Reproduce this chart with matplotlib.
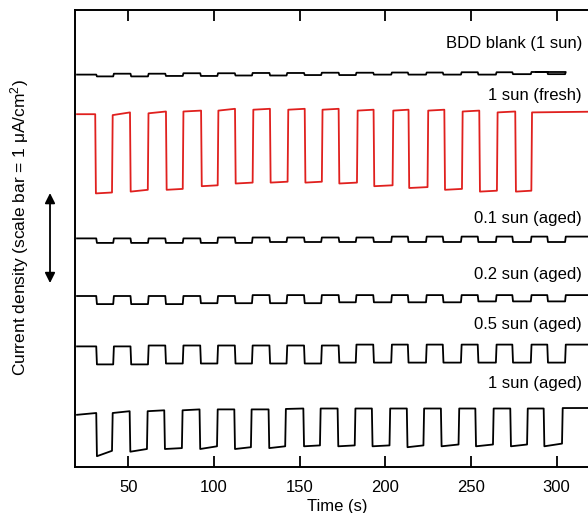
import numpy as np
import matplotlib.pyplot as plt

plt.rcParams['font.family'] = ['Liberation Sans', 'DejaVu Sans']
plt.rcParams['mathtext.fontset'] = 'custom'
plt.rcParams['mathtext.rm'] = 'Liberation Sans'
plt.rcParams['mathtext.default'] = 'regular'

# light chopping schedule (s): shutter closes at falls, opens at rises
t_start = 20.1
falls_fresh = [30.7, 51.0, 72.0, 92.5, 112.3, 132.7, 153.0, 172.8, 193.2, 213.6, 234.5, 254.9, 275.9]
rises_fresh = [40.5, 61.4, 81.8, 102.2, 122.6, 143.0, 163.0, 183.5, 204.3, 224.7, 244.8, 265.2, 285.3]
falls_aged = [31.3, 51.3, 71.6, 92.0, 112.2, 132.4, 152.6, 172.8, 193.0, 213.2, 233.6, 254.0, 274.2, 294.6]
rises_aged = [41.2, 61.5, 81.8, 102.0, 122.2, 142.4, 162.6, 182.8, 203.5, 223.8, 244.2, 264.6, 285.0, 305.0]
falls_1sun = [31.3, 50.8, 71.0, 91.6, 111.9, 131.9, 152.2, 172.2, 192.2, 212.6, 232.5, 252.6, 273.0, 292.5]
rises_1sun = [40.5, 60.9, 81.3, 101.8, 121.6, 141.6, 161.9, 182.2, 202.5, 222.3, 242.8, 262.9, 282.8, 303.2]

# current density levels (uA/cm2, stacked), dark / light plateaus
blank_first = 4.36
blank_dark = [4.34, 4.34, 4.345, 4.345, 4.35, 4.35, 4.355, 4.355, 4.36, 4.36, 4.36, 4.36, 4.365, 4.365]
blank_light = [4.37, 4.37, 4.375, 4.375, 4.378, 4.378, 4.381, 4.381, 4.383, 4.383, 4.386, 4.386, 4.389, 4.389]

fresh_first = 3.92
fresh_dark = [(3.04, 3.05), (3.06, 3.08), (3.08, 3.09), (3.12, 3.13), (3.15, 3.16), (3.16, 3.17), (3.16, 3.17),
              (3.15, 3.16), (3.12, 3.13), (3.10, 3.11), (3.08, 3.09), (3.06, 3.07), (3.06, 3.07)]
fresh_light = [(3.91, 3.94), (3.93, 3.95), (3.95, 3.96), (3.96, 3.98), (3.97, 3.98), (3.97, 3.98), (3.97, 3.98),
               (3.96, 3.97), (3.96, 3.97), (3.96, 3.97), (3.95, 3.96), (3.94, 3.95), (3.94, 3.95)]

sun01_first = 2.54
sun01_dark = [2.49, 2.49, 2.49, 2.49, 2.49, 2.50, 2.50, 2.50, 2.50, 2.50, 2.50, 2.50, 2.50, 2.50]
sun01_light = [2.54, 2.54, 2.54, 2.55, 2.55, 2.55, 2.55, 2.55, 2.56, 2.56, 2.56, 2.56, 2.56, 2.56]

sun02_first = 1.90
sun02_dark = [1.81, 1.81, 1.81, 1.82, 1.82, 1.82, 1.82, 1.83, 1.83, 1.83, 1.83, 1.84, 1.84, 1.84]
sun02_light = [1.90, 1.90, 1.90, 1.90, 1.91, 1.91, 1.91, 1.91, 1.91, 1.91, 1.91, 1.91, 1.91, 1.91]

sun05_first = 1.34
sun05_dark = [1.14, 1.14, 1.15, 1.15, 1.15, 1.15, 1.15, 1.16, 1.16, 1.16, 1.16, 1.16, 1.16, 1.16]
sun05_light = [1.34, 1.35, 1.35, 1.35, 1.35, 1.35, 1.35, 1.36, 1.36, 1.36, 1.36, 1.36, 1.36, 1.36]

sun1_first = (0.58, 0.60)
sun1_dark = [(0.12, 0.18), (0.17, 0.20), (0.20, 0.21), (0.20, 0.23), (0.20, 0.22), (0.21, 0.23), (0.23, 0.24),
             (0.23, 0.24), (0.23, 0.24), (0.22, 0.24), (0.23, 0.25), (0.23, 0.25), (0.23, 0.25), (0.23, 0.26)]
sun1_light = [(0.60, 0.62), (0.62, 0.63), (0.63, 0.64), (0.64, 0.64), (0.64, 0.64), (0.645, 0.65), (0.65, 0.65),
              (0.65, 0.65), (0.65, 0.65), (0.65, 0.65), (0.65, 0.65), (0.65, 0.65), (0.65, 0.65), (0.655, 0.656)]

labels = ['BDD blank (1 sun)', '1 sun (fresh)', '0.1 sun (aged)', '0.2 sun (aged)', '0.5 sun (aged)', '1 sun (aged)']
label_y = [4.71, 4.13, 2.76, 2.14, 1.58, 0.93]


def chopped(t0, t1, first, falls, rises, dark, light, edge=0.4):
    """Polyline through the plateau values of a chopped-light transient."""
    def pair(v):
        return v if isinstance(v, tuple) else (v, v)
    t = [t0, falls[0]]
    y = list(pair(first))
    for i, tf in enumerate(falls):
        lo, hi = pair(dark[i]), pair(light[i])
        t_next = falls[i + 1] if i + 1 < len(falls) else t1
        t += [tf + edge, rises[i], rises[i] + edge, t_next]
        y += [lo[0], lo[1], hi[0], hi[1]]
    return np.array(t), np.array(y)


fig = plt.figure(figsize=(5.88, 5.13), dpi=100)
ax = fig.add_axes([75 / 588, 46 / 513, 525 / 588, 457 / 513])

traces = [
    (chopped(t_start, 288.4, blank_first, falls_aged, rises_aged, blank_dark, blank_light), 'k'),
    (chopped(t_start, 330, fresh_first, falls_fresh, rises_fresh, fresh_dark, fresh_light), '#e0201e'),
    (chopped(t_start, 330, sun01_first, falls_aged, rises_aged, sun01_dark, sun01_light), 'k'),
    (chopped(t_start, 330, sun02_first, falls_aged, rises_aged, sun02_dark, sun02_light), 'k'),
    (chopped(t_start, 330, sun05_first, falls_aged, rises_aged, sun05_dark, sun05_light), 'k'),
    (chopped(t_start, 330, sun1_first, falls_1sun, rises_1sun, sun1_dark, sun1_light), 'k'),
]
for (t, y), c in traces:
    ax.plot(t, y, color=c, lw=1.3)

for lab, yl in zip(labels, label_y):
    ax.text(314.9, yl, lab, ha='right', va='center', fontsize=12)

ax.set_xlim(18.9, 18.9 + 525 / 1.713)
ax.set_ylim(0, 457 / 90)
ax.set_xticks([50, 100, 150, 200, 250, 300])
ax.set_yticks([])
ax.tick_params(axis='x', direction='in', length=8, width=1.3, top=True, labelsize=12, pad=9.5)
for side in ['left', 'bottom', 'top']:
    ax.spines[side].set_linewidth(1.4)
ax.spines['right'].set_visible(False)
ax.set_xlabel('Time (s)', fontsize=12, labelpad=3)

# 1 uA/cm2 scale bar beside the axis
ax.annotate('', xy=(-0.0476, 3.044), xytext=(-0.0476, 2.044),
            xycoords=ax.get_yaxis_transform(), textcoords=ax.get_yaxis_transform(),
            arrowprops=dict(arrowstyle='<|-|>', color='k', lw=1.3, mutation_scale=15,
                            shrinkA=0, shrinkB=0), annotation_clip=False)
fig.text(20 / 588, 1 - 228 / 513, 'Current density (scale bar = 1 $\\mu$A/cm$^2$)',
         rotation=90, ha='center', va='center', fontsize=12.5)

fig.savefig('out.png', dpi=100)
